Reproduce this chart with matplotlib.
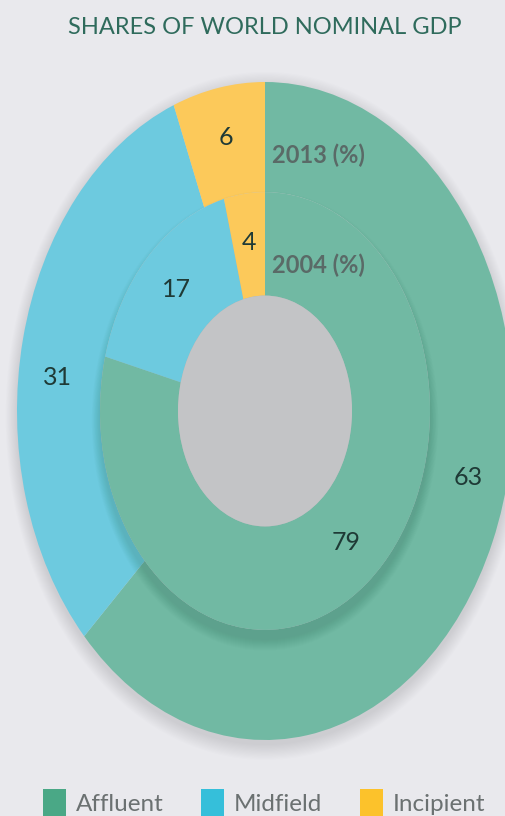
import matplotlib
matplotlib.use("Agg")
import matplotlib.pyplot as plt
from matplotlib.patches import Circle, Patch
import numpy as np

categories = ["Affluent", "Midfield", "Incipient"]
share_2013 = [63, 31, 6]
share_2004 = [79, 17, 4]
ring_titles = ["2013 (%)", "2004 (%)"]
title = "SHARES OF WORLD NOMINAL GDP"

wedge_colors = ["#71b9a3", "#6dcadf", "#fcc95a"]
legend_colors = ["#4aa886", "#35bfda", "#fcc22b"]
bg = "#e9e9ed"

plt.rcParams['font.family'] = ['Lato', 'DejaVu Sans']

fig = plt.figure(figsize=(5.05, 8.16), dpi=100, facecolor=bg)
W, H = 505, 816
cx, cy, rx, ry = 265, 411, 248, 329
ax = fig.add_axes([(cx - rx) / W, (H - cy - ry) / H, 2 * rx / W, 2 * ry / H])
ax.set_facecolor("none")

R_OUT, R_IN, R_HOLE = 1.0, 165 / 248, 87 / 248

# soft shadows
for k in range(14):
    ax.add_patch(Circle((0, -0.015), R_OUT + 0.0035 * k, color="#8a8a98", alpha=0.018,
                        zorder=0, lw=0, clip_on=False))
for k in range(12):
    ax.add_patch(Circle((0, -0.03), R_IN + 0.003 * k, color="#2e6e5c", alpha=0.02,
                        zorder=2, lw=0, clip_on=False))

ax.pie(share_2013, radius=R_OUT, startangle=90, counterclock=False,
       colors=wedge_colors, wedgeprops=dict(width=R_OUT - R_IN, linewidth=0), normalize=True)
for p in ax.patches[-3:]:
    p.set_zorder(1)
    p.set_clip_on(False)
ax.pie(share_2004, radius=R_IN, startangle=90, counterclock=False,
       colors=wedge_colors, wedgeprops=dict(width=R_IN - R_HOLE, linewidth=0), normalize=True)
for p in ax.patches[-3:]:
    p.set_zorder(3)
ax.add_patch(Circle((0, 0), R_HOLE, color="#c3c4c6", zorder=4, lw=0))

ax.set_aspect("auto")
ax.set_xlim(-1, 1)
ax.set_ylim(-1, 1)
ax.axis("off")

# value labels at mid-angles of each wedge (with small layout nudges, degrees)
nudge_out = [-9.5, -5.6, 0]
nudge_in = [-1.5, 1, 0]
def put_labels(vals, r, nudges):
    cum = np.cumsum([0] + list(vals))
    tot = cum[-1]
    for v, a, b, n in zip(vals, cum[:-1], cum[1:], nudges):
        ang = np.deg2rad(90 - 360 * (a + b) / 2 / tot - n)
        ax.text(r * np.cos(ang), r * np.sin(ang), f"{v}", ha="center", va="center",
                fontsize=18, color="#1f3a36", zorder=6)
put_labels(share_2013, 0.845, nudge_out)
put_labels(share_2004, 0.515, nudge_in)

ax.text(0.03, 0.778, ring_titles[0], ha="left", va="center", fontsize=17,
        fontweight="bold", color="#5a6a67", zorder=6)
ax.text(0.03, 0.444, ring_titles[1], ha="left", va="center", fontsize=17,
        fontweight="bold", color="#5a6a67", zorder=6)

fig.text(cx / W, 1 - 28 / H, title, ha="center", va="center", fontsize=17,
         color="#2f6b5c")

handles = [Patch(facecolor=c, edgecolor="none") for c in legend_colors]
fig.legend(handles, categories, loc="center", bbox_to_anchor=(0.523, 1 - 803 / H),
           ncol=3, frameon=False, fontsize=17.5, handlelength=0.95, handleheight=1.4,
           handletextpad=0.4, columnspacing=1.55, labelcolor="#6b7171")

fig.savefig("out.png", dpi=100, facecolor=bg)
